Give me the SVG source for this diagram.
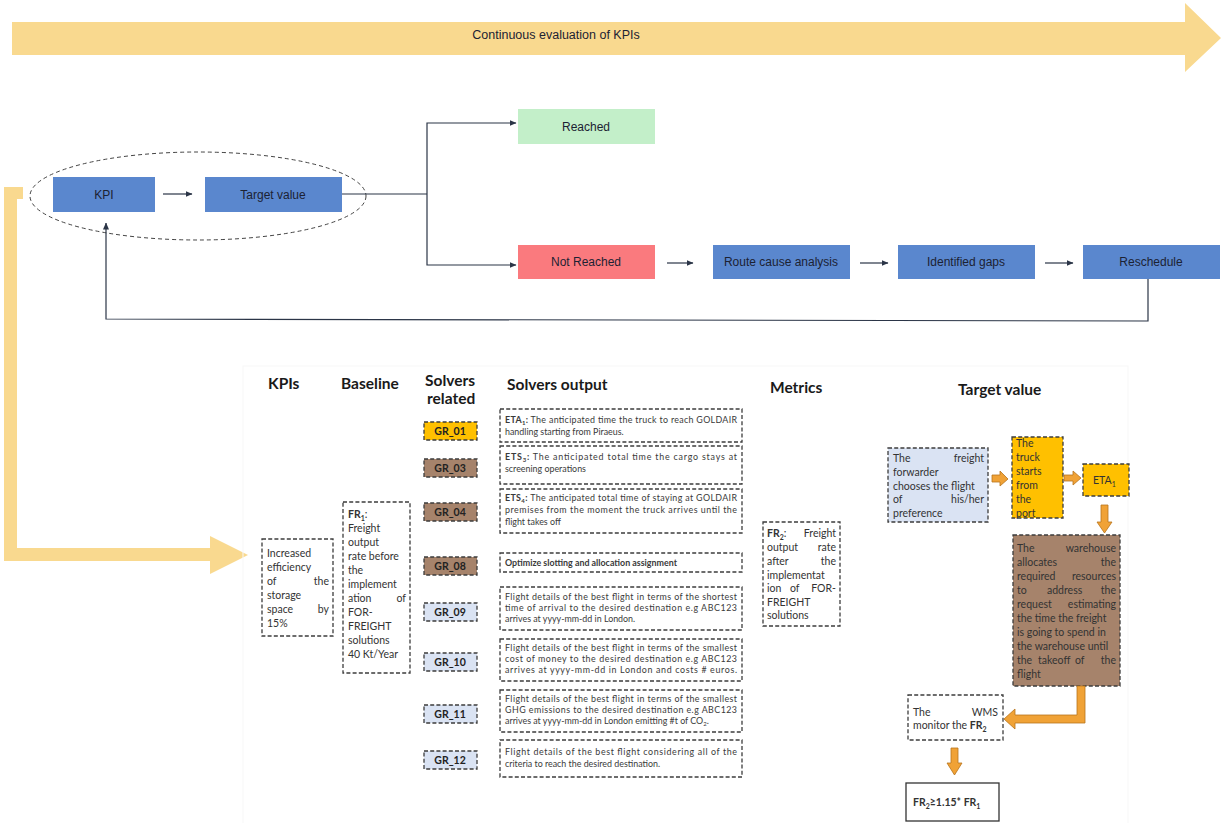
<svg xmlns="http://www.w3.org/2000/svg" width="1225" height="823" viewBox="0 0 1225 823">
  <defs>
    <marker id="tip" markerWidth="7" markerHeight="6" refX="6.5" refY="3" orient="auto" markerUnits="userSpaceOnUse">
      <path d="M0,0 L7,3 L0,6 z" fill="#2b3547"/>
    </marker>
    <style>
      .flow { fill: #5a87ce; }
      .lbl { font-family: "Liberation Sans", Arial, sans-serif; font-size: 12px; fill: #1c2233; text-anchor: middle; }
      .conn { fill: none; stroke: #2b3547; stroke-width: 1.2; }
      .dash { stroke: #3c3c3c; stroke-width: 1.3; stroke-dasharray: 4 2.2; }
      .head { font-family: Lato, "Open Sans", sans-serif; font-size: 15.5px; font-weight: bold; fill: #1a1a1a; }
      .t { font-family: Lato, "Open Sans", sans-serif; font-size: 10.5px; fill: #333; }
      .s { font-family: Lato, "Open Sans", sans-serif; font-size: 8.9px; fill: #3a3a3a; }
      .gr { font-family: Lato, "Open Sans", sans-serif; font-size: 10.5px; font-weight: bold; fill: #222; text-anchor: middle; }
      .r { text-anchor: end; }
      .b { font-weight: bold; }
      .gold { fill: #ffc000; }
      .brown { fill: #a6836b; }
      .lav { fill: #dae3f3; }
      .orng { fill: #f0a236; stroke: #b7731c; stroke-width: 0.8; }
    </style>
  </defs>

  <!-- continuous evaluation band -->
  <g id="evaluation-band">
    <polygon points="12,22 1185,22 1185,3 1221,38 1185,72 1185,55 12,55" fill="#f9d98f"/>
    <text x="556" y="39" class="lbl" style="font-size:12.5px">Continuous evaluation of KPIs</text>
  </g>

  <!-- feedback band on the left leading into the KPI table -->
  <g id="kpi-band">
    <polygon points="4,187 23,187 23,199 17,199 17,548 210,548 210,536 248,555 210,574 210,561 4,561" fill="#f9d98f"/>
  </g>

  <!-- KPI / target pair -->
  <g id="kpi-scope">
    <ellipse cx="198" cy="196" rx="168" ry="44" fill="none" stroke="#444" stroke-width="1" stroke-dasharray="4 3"/>
  </g>
  <g id="kpi">
    <rect x="53" y="177" width="102" height="35" class="flow"/>
    <text x="104" y="199" class="lbl">KPI</text>
  </g>
  <g id="target-value">
    <rect x="205" y="177" width="137" height="35" class="flow"/>
    <text x="273" y="199" class="lbl">Target value</text>
  </g>
  <g id="reached">
    <rect x="518" y="109" width="137" height="35" fill="#c3efc9"/>
    <text x="586" y="131" class="lbl">Reached</text>
  </g>
  <g id="not-reached">
    <rect x="518" y="245" width="137" height="34" fill="#fa7a7e"/>
    <text x="586" y="266" class="lbl">Not Reached</text>
  </g>
  <g id="root-cause">
    <rect x="713" y="245" width="137" height="34" class="flow"/>
    <text x="781" y="266" class="lbl">Route cause analysis</text>
  </g>
  <g id="gaps">
    <rect x="898" y="245" width="137" height="34" class="flow"/>
    <text x="966" y="266" class="lbl">Identified gaps</text>
  </g>
  <g id="reschedule">
    <rect x="1083" y="245" width="137" height="34" class="flow"/>
    <text x="1151" y="266" class="lbl">Reschedule</text>
  </g>

  <g id="connectors">
    <line x1="163" y1="194" x2="192" y2="194" class="conn" marker-end="url(#tip)"/>
    <polyline points="342,194 427,194" class="conn"/>
    <polyline points="427,194 427,123 516,123" class="conn" marker-end="url(#tip)"/>
    <polyline points="427,194 427,265 516,265" class="conn" marker-end="url(#tip)"/>
    <line x1="667" y1="263" x2="693" y2="263" class="conn" marker-end="url(#tip)"/>
    <line x1="860" y1="263" x2="888" y2="263" class="conn" marker-end="url(#tip)"/>
    <line x1="1045" y1="263" x2="1073" y2="263" class="conn" marker-end="url(#tip)"/>
    <polyline points="1148,279 1148,321 106,319 106,223" class="conn" marker-end="url(#tip)"/>
  </g>

  <!-- KPI table -->
  <rect x="243" y="366" width="885" height="460" fill="none" stroke="#f7f7f7" stroke-width="1"/>
  <g id="headings">
    <text x="268" y="389" class="head">KPIs</text>
    <text x="341" y="389" class="head">Baseline</text>
    <text x="425" y="386" class="head">Solvers</text>
    <text x="427" y="404" class="head">related</text>
    <text x="507" y="390" class="head">Solvers output</text>
    <text x="770" y="393" class="head">Metrics</text>
    <text x="958" y="395" class="head">Target value</text>
  </g>

  <g id="kpi-item">
    <rect x="262" y="539" width="71" height="97" fill="#fff" class="dash"/>
    <text class="t"><tspan x="267" y="557">Increased</tspan><tspan x="267" y="571">efficiency</tspan><tspan x="267" y="585">of</tspan><tspan x="267" y="599">storage</tspan><tspan x="267" y="613">space</tspan><tspan x="267" y="627">15%</tspan></text>
    <text class="t r"><tspan x="329" y="585">the</tspan><tspan x="329" y="613">by</tspan></text>
  </g>

  <g id="baseline-item">
    <rect x="343" y="502" width="67" height="171" fill="#fff" class="dash"/>
    <text class="t"><tspan x="348" y="518" class="b">FR</tspan><tspan dy="2.5" font-size="7" class="b">1</tspan><tspan dy="-2.5">:</tspan></text>
    <text class="t"><tspan x="348" y="532">Freight</tspan><tspan x="348" y="546">output</tspan><tspan x="348" y="560">rate before</tspan><tspan x="348" y="574">the</tspan><tspan x="348" y="588">implement</tspan><tspan x="348" y="602">ation</tspan><tspan x="348" y="616">FOR-</tspan><tspan x="348" y="630">FREIGHT</tspan><tspan x="348" y="644">solutions</tspan><tspan x="348" y="658">40 Kt/Year</tspan></text>
    <text x="406" y="602" class="t r">of</text>
  </g>

  <g id="gr01">
    <rect x="424" y="422" width="53" height="18" class="gold dash"/>
    <text x="450" y="435" class="gr">GR_01</text>
  </g>
  <g id="gr03">
    <rect x="424" y="459" width="53" height="18" class="brown dash"/>
    <text x="450" y="472" class="gr">GR_03</text>
  </g>
  <g id="gr04">
    <rect x="424" y="503" width="53" height="18" class="brown dash"/>
    <text x="450" y="516" class="gr">GR_04</text>
  </g>
  <g id="gr08">
    <rect x="424" y="557" width="53" height="18" class="brown dash"/>
    <text x="450" y="570" class="gr">GR_08</text>
  </g>
  <g id="gr09">
    <rect x="424" y="603" width="53" height="18" class="lav dash"/>
    <text x="450" y="616" class="gr">GR_09</text>
  </g>
  <g id="gr10">
    <rect x="424" y="653" width="53" height="18" class="lav dash"/>
    <text x="450" y="666" class="gr">GR_10</text>
  </g>
  <g id="gr11">
    <rect x="424" y="705" width="53" height="18" class="lav dash"/>
    <text x="450" y="718" class="gr">GR_11</text>
  </g>
  <g id="gr12">
    <rect x="424" y="751" width="53" height="18" class="lav dash"/>
    <text x="450" y="764" class="gr">GR_12</text>
  </g>

  <g id="out-eta1">
    <rect x="500" y="409" width="242" height="33" fill="#fff" class="dash"/>
    <text x="505" y="423" class="s" textLength="232" lengthAdjust="spacing"><tspan class="b">ETA</tspan><tspan dy="2" font-size="6" class="b">1</tspan><tspan dy="-2" class="b">:</tspan> The anticipated time the truck to reach GOLDAIR</text>
    <text x="505" y="435" class="s">handling starting from Piraeus.</text>
  </g>
  <g id="out-ets3">
    <rect x="500" y="446" width="242" height="38" fill="#fff" class="dash"/>
    <text x="505" y="460" class="s" textLength="232" lengthAdjust="spacing"><tspan class="b">ETS</tspan><tspan dy="2" font-size="6" class="b">3</tspan><tspan dy="-2" class="b">:</tspan> The anticipated total time the cargo stays at</text>
    <text x="505" y="472" class="s">screening operations</text>
  </g>
  <g id="out-ets4">
    <rect x="500" y="489" width="242" height="44" fill="#fff" class="dash"/>
    <text x="505" y="501" class="s" textLength="232" lengthAdjust="spacing"><tspan class="b">ETS</tspan><tspan dy="2" font-size="6" class="b">4</tspan><tspan dy="-2" class="b">:</tspan> The anticipated total time of staying at GOLDAIR</text>
    <text x="505" y="513" class="s" textLength="232" lengthAdjust="spacing">premises from the moment the truck arrives until the</text>
    <text x="505" y="525" class="s">flight takes off</text>
  </g>
  <g id="out-slotting">
    <rect x="500" y="553" width="242" height="19" fill="#fff" class="dash"/>
    <text x="505" y="566" class="s b">Optimize slotting and allocation assignment</text>
  </g>
  <g id="out-fastest">
    <rect x="500" y="587" width="242" height="43" fill="#fff" class="dash"/>
    <text x="505" y="600" class="s" textLength="232" lengthAdjust="spacing">Flight details of the best flight in terms of the shortest</text>
    <text x="505" y="611" class="s" textLength="232" lengthAdjust="spacing">time of arrival to the desired destination e.g ABC123</text>
    <text x="505" y="622" class="s">arrives at yyyy-mm-dd in London.</text>
  </g>
  <g id="out-cheapest">
    <rect x="500" y="639" width="242" height="42" fill="#fff" class="dash"/>
    <text x="505" y="651" class="s" textLength="232" lengthAdjust="spacing">Flight details of the best flight in terms of the smallest</text>
    <text x="505" y="662" class="s" textLength="232" lengthAdjust="spacing">cost of money to the desired destination e.g ABC123</text>
    <text x="505" y="673" class="s" textLength="232" lengthAdjust="spacing">arrives at yyyy-mm-dd in London and costs # euros.</text>
  </g>
  <g id="out-greenest">
    <rect x="500" y="690" width="242" height="42" fill="#fff" class="dash"/>
    <text x="505" y="702" class="s" textLength="232" lengthAdjust="spacing">Flight details of the best flight in terms of the smallest</text>
    <text x="505" y="713" class="s" textLength="232" lengthAdjust="spacing">GHG emissions to the desired destination e.g ABC123</text>
    <text x="505" y="724" class="s">arrives at yyyy-mm-dd in London emitting #t of CO<tspan dy="2" font-size="6">2</tspan><tspan dy="-2">.</tspan></text>
  </g>
  <g id="out-combined">
    <rect x="500" y="740" width="242" height="37" fill="#fff" class="dash"/>
    <text x="505" y="755" class="s" textLength="232" lengthAdjust="spacing">Flight details of the best flight considering all of the</text>
    <text x="505" y="767" class="s">criteria to reach the desired destination.</text>
  </g>

  <g id="metric-fr2">
    <rect x="763" y="522" width="77" height="104" fill="#fff" class="dash"/>
    <text class="t"><tspan x="767" y="537" class="b">FR</tspan><tspan dy="2.5" font-size="7" class="b">2</tspan><tspan dy="-2.5">:</tspan></text>
    <text class="t"><tspan x="767" y="551">output</tspan><tspan x="767" y="565">after</tspan><tspan x="767" y="579">implementat</tspan><tspan x="767" y="592">ion</tspan><tspan x="767" y="606">FREIGHT</tspan><tspan x="767" y="619">solutions</tspan></text>
    <text x="790" y="592" class="t">of</text>
    <text class="t r"><tspan x="836" y="537">Freight</tspan><tspan x="836" y="551">rate</tspan><tspan x="836" y="565">the</tspan><tspan x="836" y="592">FOR-</tspan></text>
  </g>

  <!-- target value process -->
  <g id="tv-forwarder">
    <rect x="888" y="448" width="100" height="74" class="lav dash"/>
    <text class="t"><tspan x="893" y="462">The</tspan><tspan x="893" y="476">forwarder</tspan><tspan x="893" y="490">chooses the flight</tspan><tspan x="893" y="503">of</tspan><tspan x="893" y="517">preference</tspan></text>
    <text class="t r"><tspan x="984" y="462">freight</tspan><tspan x="984" y="503">his/her</tspan></text>
  </g>
  <g id="tv-truck">
    <rect x="1012" y="437" width="51" height="81" class="gold dash"/>
    <text class="t"><tspan x="1016" y="447">The</tspan><tspan x="1016" y="461">truck</tspan><tspan x="1016" y="475">starts</tspan><tspan x="1016" y="489">from</tspan><tspan x="1016" y="503">the</tspan><tspan x="1016" y="517">port</tspan></text>
  </g>
  <g id="tv-eta1">
    <rect x="1083" y="464" width="46" height="32" class="gold dash"/>
    <text x="1093" y="484" class="t">ETA<tspan dy="2.5" font-size="7">1</tspan></text>
  </g>
  <g id="tv-warehouse">
    <rect x="1013" y="535" width="107" height="151" class="brown dash"/>
    <text class="t"><tspan x="1017" y="552">The</tspan><tspan x="1017" y="566">allocates</tspan><tspan x="1017" y="580">required</tspan><tspan x="1017" y="594">to</tspan><tspan x="1017" y="608">request</tspan><tspan x="1017" y="622">the time the freight</tspan><tspan x="1017" y="636">is going to spend in</tspan><tspan x="1017" y="650">the warehouse until</tspan><tspan x="1017" y="664">the</tspan><tspan x="1017" y="678">flight</tspan></text>
    <text class="t"><tspan x="1047" y="594">address</tspan><tspan x="1038" y="664">takeoff</tspan><tspan x="1075" y="664">of</tspan></text>
    <text class="t r"><tspan x="1116" y="552">warehouse</tspan><tspan x="1116" y="566">the</tspan><tspan x="1116" y="580">resources</tspan><tspan x="1116" y="594">the</tspan><tspan x="1116" y="608">estimating</tspan><tspan x="1116" y="664">the</tspan></text>
  </g>
  <g id="tv-wms">
    <rect x="908" y="695" width="95" height="45" fill="#fff" class="dash"/>
    <text class="t"><tspan x="913" y="716">The</tspan><tspan x="913" y="729">monitor the </tspan><tspan class="b">FR</tspan><tspan dy="2.5" font-size="7" class="b">2</tspan></text>
    <text x="998" y="716" class="t r">WMS</text>
  </g>
  <g id="tv-goal">
    <rect x="906" y="783" width="93" height="38" fill="#fff" stroke="#333" stroke-width="1.3"/>
    <text x="913" y="806" class="t b">FR<tspan dy="2.5" font-size="7">2</tspan><tspan dy="-2.5">≥1.15* FR</tspan><tspan dy="2.5" font-size="7">1</tspan></text>
  </g>

  <g id="tv-arrows">
    <polygon points="992,475 1000,475 1000,471 1008,479 1000,486 1000,482 992,482" class="orng"/>
    <polygon points="1064,475 1073,475 1073,471 1081,478 1073,485 1073,481 1064,481" class="orng"/>
    <polygon points="1101,505 1108,505 1108,522 1112,522 1104.5,533 1097,522 1101,522" class="orng"/>
    <polygon points="1077,686 1085,686 1085,723 1015,723 1015,729 1004,719 1015,709 1015,715 1077,715" class="orng"/>
    <polygon points="951,748 958,748 958,763 962,763 954.5,775 947,763 951,763" class="orng"/>
  </g>
</svg>
